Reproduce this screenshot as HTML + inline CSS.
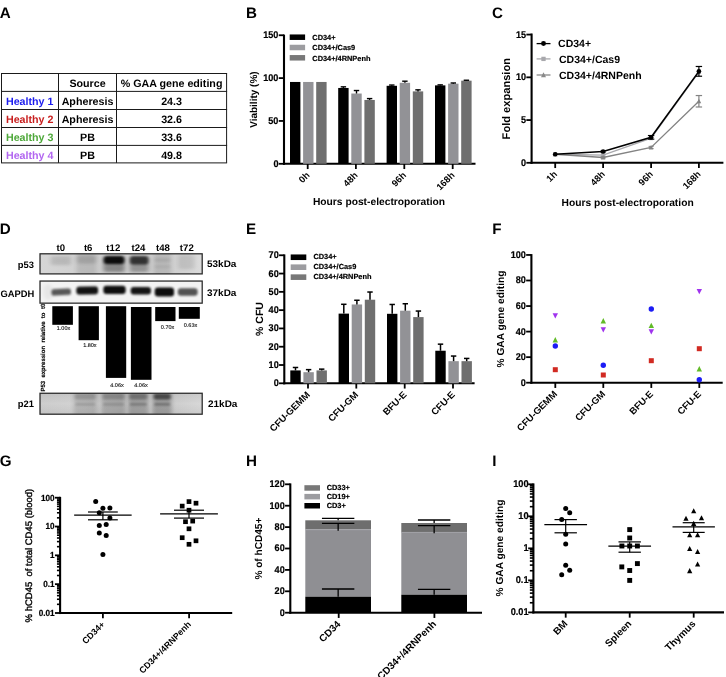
<!DOCTYPE html>
<html><head><meta charset="utf-8"><title>Figure</title>
<style>
html,body{margin:0;padding:0;background:#fff;}
body{width:726px;height:677px;overflow:hidden;font-family:"Liberation Sans",sans-serif;}
svg{display:block;will-change:transform;}
svg text{font-family:"Liberation Sans",sans-serif;text-rendering:geometricPrecision;}
</style></head><body>
<svg width="726" height="677" viewBox="0 0 726 677">
<rect width="726" height="677" fill="#fff"/>
<text x="-0.30" y="18.40" font-size="15.2" font-weight="bold" text-anchor="start" fill="#000" >A</text>
<line x1="1.00" y1="73.50" x2="227.10" y2="73.50" stroke="#1a1a1a" stroke-width="1.0" stroke-linecap="butt"/>
<line x1="1.00" y1="91.40" x2="227.10" y2="91.40" stroke="#1a1a1a" stroke-width="1.0" stroke-linecap="butt"/>
<line x1="1.00" y1="109.50" x2="227.10" y2="109.50" stroke="#1a1a1a" stroke-width="1.0" stroke-linecap="butt"/>
<line x1="1.00" y1="127.50" x2="227.10" y2="127.50" stroke="#1a1a1a" stroke-width="1.0" stroke-linecap="butt"/>
<line x1="1.00" y1="145.40" x2="227.10" y2="145.40" stroke="#1a1a1a" stroke-width="1.0" stroke-linecap="butt"/>
<line x1="1.00" y1="162.90" x2="227.10" y2="162.90" stroke="#1a1a1a" stroke-width="1.0" stroke-linecap="butt"/>
<line x1="1.50" y1="73.50" x2="1.50" y2="162.90" stroke="#1a1a1a" stroke-width="1.0" stroke-linecap="butt"/>
<line x1="58.50" y1="73.50" x2="58.50" y2="162.90" stroke="#1a1a1a" stroke-width="1.0" stroke-linecap="butt"/>
<line x1="116.50" y1="73.50" x2="116.50" y2="162.90" stroke="#1a1a1a" stroke-width="1.0" stroke-linecap="butt"/>
<line x1="226.60" y1="73.50" x2="226.60" y2="162.90" stroke="#1a1a1a" stroke-width="1.0" stroke-linecap="butt"/>
<text x="87.50" y="87.00" font-size="10.7" font-weight="bold" text-anchor="middle" fill="#000" >Source</text>
<text x="171.55" y="87.00" font-size="10.7" font-weight="bold" text-anchor="middle" fill="#000" >% GAA gene editing</text>
<text x="29.70" y="104.70" font-size="10.7" font-weight="bold" text-anchor="middle" fill="#1a1aee" >Healthy 1</text>
<text x="87.50" y="104.70" font-size="10.7" font-weight="bold" text-anchor="middle" fill="#000" >Apheresis</text>
<text x="171.55" y="104.70" font-size="10.7" font-weight="bold" text-anchor="middle" fill="#000" >24.3</text>
<text x="29.70" y="122.80" font-size="10.7" font-weight="bold" text-anchor="middle" fill="#c81e1e" >Healthy 2</text>
<text x="87.50" y="122.80" font-size="10.7" font-weight="bold" text-anchor="middle" fill="#000" >Apheresis</text>
<text x="171.55" y="122.80" font-size="10.7" font-weight="bold" text-anchor="middle" fill="#000" >32.6</text>
<text x="29.70" y="140.80" font-size="10.7" font-weight="bold" text-anchor="middle" fill="#4ea83a" >Healthy 3</text>
<text x="87.50" y="140.80" font-size="10.7" font-weight="bold" text-anchor="middle" fill="#000" >PB</text>
<text x="171.55" y="140.80" font-size="10.7" font-weight="bold" text-anchor="middle" fill="#000" >33.6</text>
<text x="29.70" y="158.70" font-size="10.7" font-weight="bold" text-anchor="middle" fill="#b266f0" >Healthy 4</text>
<text x="87.50" y="158.70" font-size="10.7" font-weight="bold" text-anchor="middle" fill="#000" >PB</text>
<text x="171.55" y="158.70" font-size="10.7" font-weight="bold" text-anchor="middle" fill="#000" >49.8</text>
<text x="245.90" y="18.40" font-size="15.2" font-weight="bold" text-anchor="start" fill="#000" >B</text>
<line x1="284.00" y1="34.60" x2="284.00" y2="164.85" stroke="#000" stroke-width="2.1" stroke-linecap="butt"/>
<line x1="278.75" y1="163.80" x2="284.00" y2="163.80" stroke="#000" stroke-width="1.8" stroke-linecap="butt"/>
<text x="278.45" y="166.76" font-size="9.8" font-weight="bold" text-anchor="end" fill="#000" textLength="5.07" lengthAdjust="spacingAndGlyphs" stroke="#000" stroke-width="0.2">0</text>
<line x1="278.75" y1="120.95" x2="284.00" y2="120.95" stroke="#000" stroke-width="1.8" stroke-linecap="butt"/>
<text x="278.45" y="123.91" font-size="9.8" font-weight="bold" text-anchor="end" fill="#000" textLength="10.13" lengthAdjust="spacingAndGlyphs" stroke="#000" stroke-width="0.2">50</text>
<line x1="278.75" y1="78.10" x2="284.00" y2="78.10" stroke="#000" stroke-width="1.8" stroke-linecap="butt"/>
<text x="278.45" y="81.06" font-size="9.8" font-weight="bold" text-anchor="end" fill="#000" textLength="15.20" lengthAdjust="spacingAndGlyphs" stroke="#000" stroke-width="0.2">100</text>
<line x1="278.75" y1="35.25" x2="284.00" y2="35.25" stroke="#000" stroke-width="1.8" stroke-linecap="butt"/>
<text x="278.45" y="38.21" font-size="9.8" font-weight="bold" text-anchor="end" fill="#000" textLength="15.20" lengthAdjust="spacingAndGlyphs" stroke="#000" stroke-width="0.2">150</text>
<line x1="282.95" y1="163.80" x2="475.50" y2="163.80" stroke="#000" stroke-width="2.1" stroke-linecap="butt"/>
<line x1="307.70" y1="163.80" x2="307.70" y2="169.05" stroke="#000" stroke-width="1.8" stroke-linecap="butt"/>
<line x1="355.90" y1="163.80" x2="355.90" y2="169.05" stroke="#000" stroke-width="1.8" stroke-linecap="butt"/>
<line x1="404.30" y1="163.80" x2="404.30" y2="169.05" stroke="#000" stroke-width="1.8" stroke-linecap="butt"/>
<line x1="452.70" y1="163.80" x2="452.70" y2="169.05" stroke="#000" stroke-width="1.8" stroke-linecap="butt"/>
<text x="310.20" y="175.80" font-size="9.3" font-weight="bold" text-anchor="end" fill="#000" transform="rotate(-45 310.20 175.80)" >0h</text>
<text x="358.40" y="175.80" font-size="9.3" font-weight="bold" text-anchor="end" fill="#000" transform="rotate(-45 358.40 175.80)" >48h</text>
<text x="406.80" y="175.80" font-size="9.3" font-weight="bold" text-anchor="end" fill="#000" transform="rotate(-45 406.80 175.80)" >96h</text>
<text x="455.20" y="175.80" font-size="9.3" font-weight="bold" text-anchor="end" fill="#000" transform="rotate(-45 455.20 175.80)" >168h</text>
<text x="379.00" y="205.20" font-size="10.25" font-weight="bold" text-anchor="middle" fill="#000" >Hours post-electroporation</text>
<text x="257.30" y="99.60" font-size="10" font-weight="bold" text-anchor="middle" fill="#000" transform="rotate(-90 257.30 99.60)" >Viability (%)</text>
<rect x="289.70" y="34.45" width="15.40" height="5.50" fill="#000" />
<text x="312.30" y="40.00" font-size="7.4" font-weight="bold" text-anchor="start" fill="#000" stroke="#000" stroke-width="0.18">CD34+</text>
<rect x="289.70" y="44.75" width="15.40" height="5.50" fill="#9c9ca0" />
<text x="312.30" y="50.30" font-size="7.4" font-weight="bold" text-anchor="start" fill="#000" stroke="#000" stroke-width="0.18">CD34+/Cas9</text>
<rect x="289.70" y="55.05" width="15.40" height="5.50" fill="#787878" />
<text x="312.30" y="60.60" font-size="7.4" font-weight="bold" text-anchor="start" fill="#000" stroke="#000" stroke-width="0.18">CD34+/4RNPenh</text>
<rect x="290.00" y="81.96" width="10.40" height="81.84" fill="#000" />
<rect x="303.10" y="81.96" width="10.40" height="81.84" fill="#929296" />
<rect x="316.20" y="81.96" width="10.40" height="81.84" fill="#6f6f6f" />
<rect x="338.20" y="87.96" width="10.40" height="75.84" fill="#000" />
<line x1="343.40" y1="87.96" x2="343.40" y2="86.84" stroke="#000" stroke-width="1.4" stroke-linecap="butt"/>
<line x1="340.70" y1="86.84" x2="346.10" y2="86.84" stroke="#000" stroke-width="1.4" stroke-linecap="butt"/>
<rect x="351.30" y="93.53" width="10.40" height="70.27" fill="#929296" />
<line x1="356.50" y1="93.53" x2="356.50" y2="90.53" stroke="#000" stroke-width="1.4" stroke-linecap="butt"/>
<line x1="353.80" y1="90.53" x2="359.20" y2="90.53" stroke="#000" stroke-width="1.4" stroke-linecap="butt"/>
<rect x="364.40" y="99.95" width="10.40" height="63.85" fill="#6f6f6f" />
<line x1="369.60" y1="99.95" x2="369.60" y2="98.58" stroke="#000" stroke-width="1.4" stroke-linecap="butt"/>
<line x1="366.90" y1="98.58" x2="372.30" y2="98.58" stroke="#000" stroke-width="1.4" stroke-linecap="butt"/>
<rect x="386.60" y="85.81" width="10.40" height="77.99" fill="#000" />
<line x1="391.80" y1="85.81" x2="391.80" y2="85.04" stroke="#000" stroke-width="1.4" stroke-linecap="butt"/>
<line x1="389.10" y1="85.04" x2="394.50" y2="85.04" stroke="#000" stroke-width="1.4" stroke-linecap="butt"/>
<rect x="399.70" y="82.81" width="10.40" height="80.99" fill="#929296" />
<line x1="404.90" y1="82.81" x2="404.90" y2="81.19" stroke="#000" stroke-width="1.4" stroke-linecap="butt"/>
<line x1="402.20" y1="81.19" x2="407.60" y2="81.19" stroke="#000" stroke-width="1.4" stroke-linecap="butt"/>
<rect x="412.80" y="91.38" width="10.40" height="72.42" fill="#6f6f6f" />
<line x1="418.00" y1="91.38" x2="418.00" y2="89.84" stroke="#000" stroke-width="1.4" stroke-linecap="butt"/>
<line x1="415.30" y1="89.84" x2="420.70" y2="89.84" stroke="#000" stroke-width="1.4" stroke-linecap="butt"/>
<rect x="435.00" y="85.38" width="10.40" height="78.42" fill="#000" />
<line x1="440.20" y1="85.38" x2="440.20" y2="84.87" stroke="#000" stroke-width="1.4" stroke-linecap="butt"/>
<line x1="437.50" y1="84.87" x2="442.90" y2="84.87" stroke="#000" stroke-width="1.4" stroke-linecap="butt"/>
<rect x="448.10" y="83.67" width="10.40" height="80.13" fill="#929296" />
<line x1="453.30" y1="83.67" x2="453.30" y2="82.98" stroke="#000" stroke-width="1.4" stroke-linecap="butt"/>
<line x1="450.60" y1="82.98" x2="456.00" y2="82.98" stroke="#000" stroke-width="1.4" stroke-linecap="butt"/>
<rect x="461.20" y="80.67" width="10.40" height="83.13" fill="#6f6f6f" />
<line x1="466.40" y1="80.67" x2="466.40" y2="80.24" stroke="#000" stroke-width="1.4" stroke-linecap="butt"/>
<line x1="463.70" y1="80.24" x2="469.10" y2="80.24" stroke="#000" stroke-width="1.4" stroke-linecap="butt"/>
<text x="492.00" y="18.40" font-size="15.2" font-weight="bold" text-anchor="start" fill="#000" >C</text>
<line x1="531.60" y1="33.50" x2="531.60" y2="163.85" stroke="#000" stroke-width="2.1" stroke-linecap="butt"/>
<line x1="526.35" y1="162.80" x2="531.60" y2="162.80" stroke="#000" stroke-width="1.8" stroke-linecap="butt"/>
<text x="526.05" y="165.76" font-size="9.8" font-weight="bold" text-anchor="end" fill="#000" textLength="5.07" lengthAdjust="spacingAndGlyphs" stroke="#000" stroke-width="0.2">0</text>
<line x1="526.35" y1="120.07" x2="531.60" y2="120.07" stroke="#000" stroke-width="1.8" stroke-linecap="butt"/>
<text x="526.05" y="123.02" font-size="9.8" font-weight="bold" text-anchor="end" fill="#000" textLength="5.07" lengthAdjust="spacingAndGlyphs" stroke="#000" stroke-width="0.2">5</text>
<line x1="526.35" y1="77.33" x2="531.60" y2="77.33" stroke="#000" stroke-width="1.8" stroke-linecap="butt"/>
<text x="526.05" y="80.29" font-size="9.8" font-weight="bold" text-anchor="end" fill="#000" textLength="10.13" lengthAdjust="spacingAndGlyphs" stroke="#000" stroke-width="0.2">10</text>
<line x1="526.35" y1="34.59" x2="531.60" y2="34.59" stroke="#000" stroke-width="1.8" stroke-linecap="butt"/>
<text x="526.05" y="37.55" font-size="9.8" font-weight="bold" text-anchor="end" fill="#000" textLength="10.13" lengthAdjust="spacingAndGlyphs" stroke="#000" stroke-width="0.2">15</text>
<line x1="530.55" y1="162.80" x2="723.40" y2="162.80" stroke="#000" stroke-width="2.1" stroke-linecap="butt"/>
<line x1="555.20" y1="162.80" x2="555.20" y2="168.05" stroke="#000" stroke-width="1.8" stroke-linecap="butt"/>
<line x1="603.10" y1="162.80" x2="603.10" y2="168.05" stroke="#000" stroke-width="1.8" stroke-linecap="butt"/>
<line x1="651.10" y1="162.80" x2="651.10" y2="168.05" stroke="#000" stroke-width="1.8" stroke-linecap="butt"/>
<line x1="698.90" y1="162.80" x2="698.90" y2="168.05" stroke="#000" stroke-width="1.8" stroke-linecap="butt"/>
<text x="557.70" y="174.80" font-size="9.3" font-weight="bold" text-anchor="end" fill="#000" transform="rotate(-45 557.70 174.80)" >1h</text>
<text x="605.60" y="174.80" font-size="9.3" font-weight="bold" text-anchor="end" fill="#000" transform="rotate(-45 605.60 174.80)" >48h</text>
<text x="653.60" y="174.80" font-size="9.3" font-weight="bold" text-anchor="end" fill="#000" transform="rotate(-45 653.60 174.80)" >96h</text>
<text x="701.40" y="174.80" font-size="9.3" font-weight="bold" text-anchor="end" fill="#000" transform="rotate(-45 701.40 174.80)" >168h</text>
<text x="627.60" y="206.10" font-size="10.25" font-weight="bold" text-anchor="middle" fill="#000" >Hours post-electroporation</text>
<text x="510.30" y="98.70" font-size="11.1" font-weight="bold" text-anchor="middle" fill="#000" transform="rotate(-90 510.30 98.70)" >Fold expansion</text>
<polyline fill="none" stroke="#a8a8ac" stroke-width="1.3" points="555.20,154.25 603.10,155.11 651.10,138.18 698.90,72.03"/>
<rect x="553.20" y="152.25" width="4.00" height="4.00" fill="#a8a8ac" />
<line x1="600.60" y1="154.25" x2="605.60" y2="154.25" stroke="#a8a8ac" stroke-width="1.0" stroke-linecap="butt"/>
<line x1="600.60" y1="155.96" x2="605.60" y2="155.96" stroke="#a8a8ac" stroke-width="1.0" stroke-linecap="butt"/>
<rect x="601.10" y="153.11" width="4.00" height="4.00" fill="#a8a8ac" />
<rect x="649.10" y="136.18" width="4.00" height="4.00" fill="#a8a8ac" />
<rect x="696.90" y="70.03" width="4.00" height="4.00" fill="#a8a8ac" />
<polyline fill="none" stroke="#838383" stroke-width="1.3" points="555.20,154.25 603.10,157.50 651.10,147.42 698.90,101.26"/>
<polygon points="555.20,151.77 552.90,156.28 557.50,156.28" fill="#838383"/>
<line x1="600.60" y1="156.82" x2="605.60" y2="156.82" stroke="#838383" stroke-width="1.0" stroke-linecap="butt"/>
<line x1="600.60" y1="158.18" x2="605.60" y2="158.18" stroke="#838383" stroke-width="1.0" stroke-linecap="butt"/>
<polygon points="603.10,155.02 600.80,159.53 605.40,159.53" fill="#838383"/>
<line x1="648.60" y1="146.39" x2="653.60" y2="146.39" stroke="#838383" stroke-width="1.0" stroke-linecap="butt"/>
<line x1="648.60" y1="148.44" x2="653.60" y2="148.44" stroke="#838383" stroke-width="1.0" stroke-linecap="butt"/>
<polygon points="651.10,144.94 648.80,149.44 653.40,149.44" fill="#838383"/>
<line x1="698.90" y1="95.54" x2="698.90" y2="106.99" stroke="#838383" stroke-width="1.2" stroke-linecap="butt"/>
<line x1="695.70" y1="95.54" x2="702.10" y2="95.54" stroke="#838383" stroke-width="1.2" stroke-linecap="butt"/>
<line x1="695.70" y1="106.99" x2="702.10" y2="106.99" stroke="#838383" stroke-width="1.2" stroke-linecap="butt"/>
<polygon points="698.90,98.78 696.60,103.29 701.20,103.29" fill="#838383"/>
<polyline fill="none" stroke="#000" stroke-width="1.6" points="555.20,154.25 603.10,151.52 651.10,137.33 698.90,71.35"/>
<circle cx="555.20" cy="154.25" r="2.3" fill="#000"/>
<line x1="600.60" y1="150.66" x2="605.60" y2="150.66" stroke="#000" stroke-width="1.0" stroke-linecap="butt"/>
<line x1="600.60" y1="152.37" x2="605.60" y2="152.37" stroke="#000" stroke-width="1.0" stroke-linecap="butt"/>
<circle cx="603.10" cy="151.52" r="2.3" fill="#000"/>
<line x1="651.10" y1="135.54" x2="651.10" y2="139.12" stroke="#000" stroke-width="1.2" stroke-linecap="butt"/>
<line x1="647.90" y1="135.54" x2="654.30" y2="135.54" stroke="#000" stroke-width="1.2" stroke-linecap="butt"/>
<line x1="647.90" y1="139.12" x2="654.30" y2="139.12" stroke="#000" stroke-width="1.2" stroke-linecap="butt"/>
<circle cx="651.10" cy="137.33" r="2.3" fill="#000"/>
<line x1="698.90" y1="66.48" x2="698.90" y2="76.22" stroke="#000" stroke-width="1.2" stroke-linecap="butt"/>
<line x1="695.70" y1="66.48" x2="702.10" y2="66.48" stroke="#000" stroke-width="1.2" stroke-linecap="butt"/>
<line x1="695.70" y1="76.22" x2="702.10" y2="76.22" stroke="#000" stroke-width="1.2" stroke-linecap="butt"/>
<circle cx="698.90" cy="71.35" r="2.3" fill="#000"/>
<line x1="536.60" y1="43.60" x2="550.50" y2="43.60" stroke="#000" stroke-width="1.3" stroke-linecap="butt"/>
<circle cx="543.50" cy="43.60" r="2.484" fill="#000"/>
<text x="558.10" y="46.60" font-size="10.5" font-weight="bold" text-anchor="start" fill="#000" >CD34+</text>
<line x1="536.60" y1="58.90" x2="550.50" y2="58.90" stroke="#a8a8ac" stroke-width="1.3" stroke-linecap="butt"/>
<rect x="541.34" y="56.74" width="4.32" height="4.32" fill="#a8a8ac" />
<text x="559.00" y="62.70" font-size="10.5" font-weight="bold" text-anchor="start" fill="#000" >CD34+/Cas9</text>
<line x1="536.60" y1="75.00" x2="550.50" y2="75.00" stroke="#8a8a8a" stroke-width="1.3" stroke-linecap="butt"/>
<polygon points="543.50,72.32 541.02,77.19 545.98,77.19" fill="#8a8a8a"/>
<text x="559.00" y="78.80" font-size="10.5" font-weight="bold" text-anchor="start" fill="#000" >CD34+/4RNPenh</text>
<text x="-0.20" y="234.20" font-size="15.2" font-weight="bold" text-anchor="start" fill="#000" >D</text>
<defs>
<filter id="b1" x="-30%" y="-80%" width="160%" height="260%"><feGaussianBlur stdDeviation="1.5 1.1"/></filter>
<filter id="b2" x="-30%" y="-80%" width="160%" height="260%"><feGaussianBlur stdDeviation="0.95 0.8"/></filter>
<filter id="b3" x="-40%" y="-100%" width="180%" height="300%"><feGaussianBlur stdDeviation="2.0 1.8"/></filter>
<filter id="b4" x="-30%" y="-200%" width="160%" height="500%"><feGaussianBlur stdDeviation="1.2 0.6"/></filter>
<clipPath id="cp53"><rect x="40" y="253.8" width="162.2" height="20.1"/></clipPath>
<clipPath id="cgap"><rect x="40" y="281.05" width="162.2" height="22.1"/></clipPath>
<clipPath id="cp21"><rect x="40" y="393.25" width="162.2" height="20.95"/></clipPath>
<linearGradient id="g53" x1="0" x2="1" y1="0" y2="0"><stop offset="0" stop-color="#d6d6d6"/><stop offset="0.5" stop-color="#cacaca"/><stop offset="0.9" stop-color="#d2d2d2"/><stop offset="1" stop-color="#dcdcdc"/></linearGradient>
<linearGradient id="g21" x1="0" x2="1" y1="0" y2="0"><stop offset="0" stop-color="#cdcdcd"/><stop offset="0.2" stop-color="#d2d2d2"/><stop offset="0.5" stop-color="#c2c2c2"/><stop offset="0.85" stop-color="#cfcfcf"/><stop offset="1" stop-color="#d8d8d8"/></linearGradient>
<linearGradient id="gvd" x1="0" x2="0" y1="0" y2="1"><stop offset="0" stop-color="#000" stop-opacity="0.06"/><stop offset="0.5" stop-color="#000" stop-opacity="0"/><stop offset="1" stop-color="#000" stop-opacity="0.05"/></linearGradient>
</defs>
<text x="60.80" y="250.80" font-size="9.6" font-weight="bold" text-anchor="middle" fill="#000" >t0</text>
<text x="88.20" y="250.80" font-size="9.6" font-weight="bold" text-anchor="middle" fill="#000" >t6</text>
<text x="113.30" y="250.80" font-size="9.6" font-weight="bold" text-anchor="middle" fill="#000" >t12</text>
<text x="138.50" y="250.80" font-size="9.6" font-weight="bold" text-anchor="middle" fill="#000" >t24</text>
<text x="162.90" y="250.80" font-size="9.6" font-weight="bold" text-anchor="middle" fill="#000" >t48</text>
<text x="186.80" y="250.80" font-size="9.6" font-weight="bold" text-anchor="middle" fill="#000" >t72</text>
<rect x="40.00" y="253.80" width="162.20" height="20.10" fill="url(#g53)" />
<g clip-path="url(#cp53)">
<rect x="50.80" y="256.00" width="20.00" height="9.00" rx="2.00" fill="#000" opacity="0.12" filter="url(#b3)"/>
<rect x="76.50" y="253.00" width="20.00" height="22.00" rx="2.00" fill="#000" opacity="0.1" filter="url(#b3)"/>
<rect x="77.00" y="255.50" width="19.00" height="8.00" rx="2.00" fill="#000" opacity="0.13" filter="url(#b3)"/>
<rect x="103.50" y="257.00" width="21.00" height="15.00" rx="2.00" fill="#000" opacity="0.34" filter="url(#b3)"/>
<rect x="103.75" y="256.00" width="20.50" height="8.00" rx="3.00" fill="#000" opacity="0.9" filter="url(#b1)"/>
<rect x="129.95" y="257.00" width="18.50" height="15.00" rx="2.00" fill="#000" opacity="0.28" filter="url(#b3)"/>
<rect x="129.95" y="255.95" width="18.50" height="8.50" rx="3.00" fill="#000" opacity="0.66" filter="url(#b1)"/>
<rect x="153.75" y="253.00" width="17.50" height="22.00" rx="2.00" fill="#000" opacity="0.11" filter="url(#b3)"/>
<rect x="154.50" y="258.00" width="16.00" height="4.00" rx="2.00" fill="#000" opacity="0.07" filter="url(#b1)"/>
<rect x="154.50" y="265.30" width="16.00" height="3.00" rx="1.50" fill="#000" opacity="0.06" filter="url(#b1)"/>
<rect x="178.30" y="255.00" width="16.00" height="14.00" rx="2.00" fill="#000" opacity="0.09" filter="url(#b3)"/>
<rect x="126.20" y="252.00" width="2.00" height="24.00" rx="0.00" fill="#fff" opacity="0.1" filter="url(#b2)"/>
</g>
<rect x="40" y="253.8" width="162.2" height="20.1" fill="none" stroke="#262626" stroke-width="1.25"/>
<rect x="40.00" y="281.05" width="162.20" height="22.10" fill="#f3f3f3" />
<g clip-path="url(#cgap)">
<rect x="43.00" y="284.00" width="10.00" height="16.00" rx="8.00" fill="#000" opacity="0.05" filter="url(#b3)"/>
<rect x="51.45" y="288.70" width="19.50" height="6.60" rx="2.60" fill="#000" opacity="0.64" filter="url(#b2)" transform="rotate(-3 61.20 292.00)"/>
<rect x="76.30" y="286.40" width="21.80" height="8.20" rx="3.00" fill="#000" opacity="0.92" filter="url(#b2)" transform="rotate(-1 87.20 290.50)"/>
<rect x="103.35" y="285.80" width="22.30" height="8.20" rx="3.00" fill="#000" opacity="0.94" filter="url(#b2)"/>
<rect x="130.65" y="287.00" width="20.30" height="7.60" rx="3.00" fill="#000" opacity="0.91" filter="url(#b2)"/>
<rect x="154.75" y="287.50" width="19.30" height="9.00" rx="3.20" fill="#000" opacity="0.95" filter="url(#b2)"/>
<rect x="177.80" y="288.30" width="19.80" height="7.40" rx="3.00" fill="#000" opacity="0.66" filter="url(#b2)"/>
</g>
<rect x="40" y="281.05" width="162.2" height="22.1" fill="none" stroke="#262626" stroke-width="1.25"/>
<text x="33.90" y="268.00" font-size="9.4" font-weight="bold" text-anchor="end" fill="#000" >p53</text>
<text x="34.30" y="296.90" font-size="9.4" font-weight="bold" text-anchor="end" fill="#000" >GAPDH</text>
<text x="207.00" y="267.40" font-size="9.5" font-weight="bold" text-anchor="start" fill="#000" textLength="29.4" lengthAdjust="spacingAndGlyphs">53kDa</text>
<text x="207.00" y="296.30" font-size="9.5" font-weight="bold" text-anchor="start" fill="#000" textLength="29.4" lengthAdjust="spacingAndGlyphs">37kDa</text>
<rect x="52.30" y="306.20" width="20.60" height="18.60" fill="#000" />
<text x="63.50" y="330.20" font-size="5.5" font-weight="normal" text-anchor="middle" fill="#111" stroke="#111" stroke-width="0.12">1.00x</text>
<rect x="78.60" y="306.20" width="20.30" height="34.00" fill="#000" />
<text x="89.90" y="347.10" font-size="5.5" font-weight="normal" text-anchor="middle" fill="#111" stroke="#111" stroke-width="0.12">1.80x</text>
<rect x="105.90" y="306.20" width="20.30" height="71.70" fill="#000" />
<text x="117.00" y="386.80" font-size="5.5" font-weight="normal" text-anchor="middle" fill="#111" stroke="#111" stroke-width="0.12">4.06x</text>
<rect x="130.90" y="307.00" width="20.60" height="72.80" fill="#000" />
<text x="141.00" y="386.80" font-size="5.5" font-weight="normal" text-anchor="middle" fill="#111" stroke="#111" stroke-width="0.12">4.06x</text>
<rect x="155.20" y="307.00" width="20.30" height="14.10" fill="#000" />
<text x="167.60" y="329.00" font-size="5.5" font-weight="normal" text-anchor="middle" fill="#111" stroke="#111" stroke-width="0.12">0.70x</text>
<rect x="178.80" y="307.00" width="21.00" height="11.80" fill="#000" />
<text x="190.50" y="327.00" font-size="5.5" font-weight="normal" text-anchor="middle" fill="#111" stroke="#111" stroke-width="0.12">0.63x</text>
<text x="44.90" y="391.60" font-size="6" font-weight="bold" text-anchor="start" fill="#000" transform="rotate(-90 44.90 391.60)" word-spacing="1.7" stroke="#000" stroke-width="0.15">P53 expression relative to t0</text>
<rect x="40.00" y="393.25" width="162.20" height="20.95" fill="url(#g21)" />
<g clip-path="url(#cp21)">
<rect x="40" y="393.25" width="162.2" height="20.95" fill="url(#gvd)"/>
<rect x="73.70" y="392.00" width="23.00" height="24.00" rx="2.00" fill="#000" opacity="0.12" filter="url(#b3)"/>
<rect x="74.70" y="393.80" width="21.00" height="5.60" rx="2.00" fill="#000" opacity="0.15" filter="url(#b1)"/>
<rect x="75.20" y="403.00" width="20.00" height="2.60" rx="1.30" fill="#000" opacity="0.14450000000000002" filter="url(#b2)"/>
<rect x="101.50" y="392.00" width="24.00" height="24.00" rx="2.00" fill="#000" opacity="0.14" filter="url(#b3)"/>
<rect x="102.50" y="393.80" width="22.00" height="5.60" rx="2.00" fill="#000" opacity="0.18" filter="url(#b1)"/>
<rect x="103.00" y="403.00" width="21.00" height="2.60" rx="1.30" fill="#000" opacity="0.1615" filter="url(#b2)"/>
<rect x="128.30" y="392.00" width="20.00" height="24.00" rx="2.00" fill="#000" opacity="0.19" filter="url(#b3)"/>
<rect x="129.30" y="393.80" width="18.00" height="5.60" rx="2.00" fill="#000" opacity="0.27" filter="url(#b1)"/>
<rect x="129.80" y="403.00" width="17.00" height="2.60" rx="1.30" fill="#000" opacity="0.255" filter="url(#b2)"/>
<rect x="152.70" y="392.00" width="19.00" height="24.00" rx="2.00" fill="#000" opacity="0.22" filter="url(#b3)"/>
<rect x="153.70" y="393.80" width="17.00" height="5.60" rx="2.00" fill="#000" opacity="0.52" filter="url(#b1)"/>
<rect x="154.20" y="403.00" width="16.00" height="2.60" rx="1.30" fill="#000" opacity="0.306" filter="url(#b2)"/>
<rect x="99.30" y="392.00" width="2.00" height="24.00" rx="0.00" fill="#fff" opacity="0.1" filter="url(#b2)"/>
<rect x="125.80" y="392.00" width="2.00" height="24.00" rx="0.00" fill="#fff" opacity="0.12" filter="url(#b2)"/>
<rect x="149.50" y="392.00" width="2.00" height="24.00" rx="0.00" fill="#fff" opacity="0.12" filter="url(#b2)"/>
</g>
<rect x="40" y="393.25" width="162.2" height="20.95" fill="none" stroke="#262626" stroke-width="1.25"/>
<text x="33.90" y="406.70" font-size="9.4" font-weight="bold" text-anchor="end" fill="#000" >p21</text>
<text x="208.00" y="406.60" font-size="9.5" font-weight="bold" text-anchor="start" fill="#000" textLength="29.4" lengthAdjust="spacingAndGlyphs">21kDa</text>
<text x="246.00" y="234.20" font-size="15.2" font-weight="bold" text-anchor="start" fill="#000" >E</text>
<line x1="284.30" y1="254.40" x2="284.30" y2="384.35" stroke="#000" stroke-width="2.1" stroke-linecap="butt"/>
<line x1="279.05" y1="383.30" x2="284.30" y2="383.30" stroke="#000" stroke-width="1.8" stroke-linecap="butt"/>
<text x="278.75" y="386.26" font-size="9.8" font-weight="bold" text-anchor="end" fill="#000" textLength="5.07" lengthAdjust="spacingAndGlyphs" stroke="#000" stroke-width="0.2">0</text>
<line x1="279.05" y1="365.01" x2="284.30" y2="365.01" stroke="#000" stroke-width="1.8" stroke-linecap="butt"/>
<text x="278.75" y="367.97" font-size="9.8" font-weight="bold" text-anchor="end" fill="#000" textLength="10.13" lengthAdjust="spacingAndGlyphs" stroke="#000" stroke-width="0.2">10</text>
<line x1="279.05" y1="346.72" x2="284.30" y2="346.72" stroke="#000" stroke-width="1.8" stroke-linecap="butt"/>
<text x="278.75" y="349.68" font-size="9.8" font-weight="bold" text-anchor="end" fill="#000" textLength="10.13" lengthAdjust="spacingAndGlyphs" stroke="#000" stroke-width="0.2">20</text>
<line x1="279.05" y1="328.43" x2="284.30" y2="328.43" stroke="#000" stroke-width="1.8" stroke-linecap="butt"/>
<text x="278.75" y="331.39" font-size="9.8" font-weight="bold" text-anchor="end" fill="#000" textLength="10.13" lengthAdjust="spacingAndGlyphs" stroke="#000" stroke-width="0.2">30</text>
<line x1="279.05" y1="310.14" x2="284.30" y2="310.14" stroke="#000" stroke-width="1.8" stroke-linecap="butt"/>
<text x="278.75" y="313.10" font-size="9.8" font-weight="bold" text-anchor="end" fill="#000" textLength="10.13" lengthAdjust="spacingAndGlyphs" stroke="#000" stroke-width="0.2">40</text>
<line x1="279.05" y1="291.85" x2="284.30" y2="291.85" stroke="#000" stroke-width="1.8" stroke-linecap="butt"/>
<text x="278.75" y="294.81" font-size="9.8" font-weight="bold" text-anchor="end" fill="#000" textLength="10.13" lengthAdjust="spacingAndGlyphs" stroke="#000" stroke-width="0.2">50</text>
<line x1="279.05" y1="273.56" x2="284.30" y2="273.56" stroke="#000" stroke-width="1.8" stroke-linecap="butt"/>
<text x="278.75" y="276.52" font-size="9.8" font-weight="bold" text-anchor="end" fill="#000" textLength="10.13" lengthAdjust="spacingAndGlyphs" stroke="#000" stroke-width="0.2">60</text>
<line x1="279.05" y1="255.27" x2="284.30" y2="255.27" stroke="#000" stroke-width="1.8" stroke-linecap="butt"/>
<text x="278.75" y="258.23" font-size="9.8" font-weight="bold" text-anchor="end" fill="#000" textLength="10.13" lengthAdjust="spacingAndGlyphs" stroke="#000" stroke-width="0.2">70</text>
<line x1="283.25" y1="383.30" x2="474.60" y2="383.30" stroke="#000" stroke-width="2.1" stroke-linecap="butt"/>
<line x1="308.00" y1="383.30" x2="308.00" y2="388.55" stroke="#000" stroke-width="1.8" stroke-linecap="butt"/>
<line x1="356.30" y1="383.30" x2="356.30" y2="388.55" stroke="#000" stroke-width="1.8" stroke-linecap="butt"/>
<line x1="404.70" y1="383.30" x2="404.70" y2="388.55" stroke="#000" stroke-width="1.8" stroke-linecap="butt"/>
<line x1="453.00" y1="383.30" x2="453.00" y2="388.55" stroke="#000" stroke-width="1.8" stroke-linecap="butt"/>
<text x="310.50" y="395.30" font-size="9.5" font-weight="bold" text-anchor="end" fill="#000" transform="rotate(-45 310.50 395.30)" >CFU-GEMM</text>
<text x="358.80" y="395.30" font-size="9.5" font-weight="bold" text-anchor="end" fill="#000" transform="rotate(-45 358.80 395.30)" >CFU-GM</text>
<text x="407.20" y="395.30" font-size="9.5" font-weight="bold" text-anchor="end" fill="#000" transform="rotate(-45 407.20 395.30)" >BFU-E</text>
<text x="455.50" y="395.30" font-size="9.5" font-weight="bold" text-anchor="end" fill="#000" transform="rotate(-45 455.50 395.30)" >CFU-E</text>
<text x="262.90" y="319.00" font-size="10.5" font-weight="bold" text-anchor="middle" fill="#000" transform="rotate(-90 262.90 319.00)" >% CFU</text>
<rect x="290.70" y="254.45" width="15.60" height="5.60" fill="#000" />
<text x="313.40" y="259.40" font-size="7.4" font-weight="bold" text-anchor="start" fill="#000" stroke="#000" stroke-width="0.18">CD34+</text>
<rect x="290.70" y="264.40" width="15.60" height="5.60" fill="#9c9ca0" />
<text x="313.40" y="269.35" font-size="7.4" font-weight="bold" text-anchor="start" fill="#000" stroke="#000" stroke-width="0.18">CD34+/Cas9</text>
<rect x="290.70" y="274.35" width="15.60" height="5.60" fill="#787878" />
<text x="313.40" y="279.30" font-size="7.4" font-weight="bold" text-anchor="start" fill="#000" stroke="#000" stroke-width="0.18">CD34+/4RNPenh</text>
<rect x="290.30" y="370.41" width="10.40" height="12.89" fill="#000" />
<line x1="295.50" y1="370.41" x2="295.50" y2="367.48" stroke="#000" stroke-width="1.5" stroke-linecap="butt"/>
<line x1="292.80" y1="367.48" x2="298.20" y2="367.48" stroke="#000" stroke-width="1.5" stroke-linecap="butt"/>
<rect x="303.40" y="372.20" width="10.40" height="11.10" fill="#929296" />
<line x1="308.60" y1="372.20" x2="308.60" y2="369.64" stroke="#000" stroke-width="1.5" stroke-linecap="butt"/>
<line x1="305.90" y1="369.64" x2="311.30" y2="369.64" stroke="#000" stroke-width="1.5" stroke-linecap="butt"/>
<rect x="316.50" y="370.41" width="10.40" height="12.89" fill="#6f6f6f" />
<line x1="321.70" y1="370.41" x2="321.70" y2="369.13" stroke="#000" stroke-width="1.5" stroke-linecap="butt"/>
<line x1="319.00" y1="369.13" x2="324.40" y2="369.13" stroke="#000" stroke-width="1.5" stroke-linecap="butt"/>
<rect x="338.60" y="313.62" width="10.40" height="69.68" fill="#000" />
<line x1="343.80" y1="313.62" x2="343.80" y2="304.29" stroke="#000" stroke-width="1.5" stroke-linecap="butt"/>
<line x1="341.10" y1="304.29" x2="346.50" y2="304.29" stroke="#000" stroke-width="1.5" stroke-linecap="butt"/>
<rect x="351.70" y="304.47" width="10.40" height="78.83" fill="#929296" />
<line x1="356.90" y1="304.47" x2="356.90" y2="300.26" stroke="#000" stroke-width="1.5" stroke-linecap="butt"/>
<line x1="354.20" y1="300.26" x2="359.60" y2="300.26" stroke="#000" stroke-width="1.5" stroke-linecap="butt"/>
<rect x="364.80" y="299.71" width="10.40" height="83.59" fill="#6f6f6f" />
<line x1="370.00" y1="299.71" x2="370.00" y2="292.03" stroke="#000" stroke-width="1.5" stroke-linecap="butt"/>
<line x1="367.30" y1="292.03" x2="372.70" y2="292.03" stroke="#000" stroke-width="1.5" stroke-linecap="butt"/>
<rect x="387.00" y="313.80" width="10.40" height="69.50" fill="#000" />
<line x1="392.20" y1="313.80" x2="392.20" y2="304.47" stroke="#000" stroke-width="1.5" stroke-linecap="butt"/>
<line x1="389.50" y1="304.47" x2="394.90" y2="304.47" stroke="#000" stroke-width="1.5" stroke-linecap="butt"/>
<rect x="400.10" y="310.69" width="10.40" height="72.61" fill="#929296" />
<line x1="405.30" y1="310.69" x2="405.30" y2="303.74" stroke="#000" stroke-width="1.5" stroke-linecap="butt"/>
<line x1="402.60" y1="303.74" x2="408.00" y2="303.74" stroke="#000" stroke-width="1.5" stroke-linecap="butt"/>
<rect x="413.20" y="317.09" width="10.40" height="66.21" fill="#6f6f6f" />
<line x1="418.40" y1="317.09" x2="418.40" y2="311.05" stroke="#000" stroke-width="1.5" stroke-linecap="butt"/>
<line x1="415.70" y1="311.05" x2="421.10" y2="311.05" stroke="#000" stroke-width="1.5" stroke-linecap="butt"/>
<rect x="435.30" y="350.74" width="10.40" height="32.56" fill="#000" />
<line x1="440.50" y1="350.74" x2="440.50" y2="344.16" stroke="#000" stroke-width="1.5" stroke-linecap="butt"/>
<line x1="437.80" y1="344.16" x2="443.20" y2="344.16" stroke="#000" stroke-width="1.5" stroke-linecap="butt"/>
<rect x="448.40" y="361.17" width="10.40" height="22.13" fill="#929296" />
<line x1="453.60" y1="361.17" x2="453.60" y2="356.05" stroke="#000" stroke-width="1.5" stroke-linecap="butt"/>
<line x1="450.90" y1="356.05" x2="456.30" y2="356.05" stroke="#000" stroke-width="1.5" stroke-linecap="butt"/>
<rect x="461.50" y="361.17" width="10.40" height="22.13" fill="#6f6f6f" />
<line x1="466.70" y1="361.17" x2="466.70" y2="358.43" stroke="#000" stroke-width="1.5" stroke-linecap="butt"/>
<line x1="464.00" y1="358.43" x2="469.40" y2="358.43" stroke="#000" stroke-width="1.5" stroke-linecap="butt"/>
<text x="492.20" y="234.20" font-size="15.2" font-weight="bold" text-anchor="start" fill="#000" >F</text>
<line x1="531.40" y1="254.10" x2="531.40" y2="383.75" stroke="#000" stroke-width="2.1" stroke-linecap="butt"/>
<line x1="526.15" y1="382.70" x2="531.40" y2="382.70" stroke="#000" stroke-width="1.8" stroke-linecap="butt"/>
<text x="525.85" y="385.66" font-size="9.8" font-weight="bold" text-anchor="end" fill="#000" textLength="5.07" lengthAdjust="spacingAndGlyphs" stroke="#000" stroke-width="0.2">0</text>
<line x1="526.15" y1="357.15" x2="531.40" y2="357.15" stroke="#000" stroke-width="1.8" stroke-linecap="butt"/>
<text x="525.85" y="360.11" font-size="9.8" font-weight="bold" text-anchor="end" fill="#000" textLength="10.13" lengthAdjust="spacingAndGlyphs" stroke="#000" stroke-width="0.2">20</text>
<line x1="526.15" y1="331.60" x2="531.40" y2="331.60" stroke="#000" stroke-width="1.8" stroke-linecap="butt"/>
<text x="525.85" y="334.56" font-size="9.8" font-weight="bold" text-anchor="end" fill="#000" textLength="10.13" lengthAdjust="spacingAndGlyphs" stroke="#000" stroke-width="0.2">40</text>
<line x1="526.15" y1="306.05" x2="531.40" y2="306.05" stroke="#000" stroke-width="1.8" stroke-linecap="butt"/>
<text x="525.85" y="309.01" font-size="9.8" font-weight="bold" text-anchor="end" fill="#000" textLength="10.13" lengthAdjust="spacingAndGlyphs" stroke="#000" stroke-width="0.2">60</text>
<line x1="526.15" y1="280.50" x2="531.40" y2="280.50" stroke="#000" stroke-width="1.8" stroke-linecap="butt"/>
<text x="525.85" y="283.46" font-size="9.8" font-weight="bold" text-anchor="end" fill="#000" textLength="10.13" lengthAdjust="spacingAndGlyphs" stroke="#000" stroke-width="0.2">80</text>
<line x1="526.15" y1="254.95" x2="531.40" y2="254.95" stroke="#000" stroke-width="1.8" stroke-linecap="butt"/>
<text x="525.85" y="257.91" font-size="9.8" font-weight="bold" text-anchor="end" fill="#000" textLength="15.20" lengthAdjust="spacingAndGlyphs" stroke="#000" stroke-width="0.2">100</text>
<line x1="530.35" y1="382.70" x2="722.70" y2="382.70" stroke="#000" stroke-width="2.1" stroke-linecap="butt"/>
<line x1="555.30" y1="382.70" x2="555.30" y2="387.95" stroke="#000" stroke-width="1.8" stroke-linecap="butt"/>
<line x1="603.30" y1="382.70" x2="603.30" y2="387.95" stroke="#000" stroke-width="1.8" stroke-linecap="butt"/>
<line x1="651.30" y1="382.70" x2="651.30" y2="387.95" stroke="#000" stroke-width="1.8" stroke-linecap="butt"/>
<line x1="699.30" y1="382.70" x2="699.30" y2="387.95" stroke="#000" stroke-width="1.8" stroke-linecap="butt"/>
<text x="557.80" y="394.70" font-size="9.5" font-weight="bold" text-anchor="end" fill="#000" transform="rotate(-45 557.80 394.70)" >CFU-GEMM</text>
<text x="605.80" y="394.70" font-size="9.5" font-weight="bold" text-anchor="end" fill="#000" transform="rotate(-45 605.80 394.70)" >CFU-GM</text>
<text x="653.80" y="394.70" font-size="9.5" font-weight="bold" text-anchor="end" fill="#000" transform="rotate(-45 653.80 394.70)" >BFU-E</text>
<text x="701.80" y="394.70" font-size="9.5" font-weight="bold" text-anchor="end" fill="#000" transform="rotate(-45 701.80 394.70)" >CFU-E</text>
<text x="504.00" y="319.00" font-size="10.2" font-weight="bold" text-anchor="middle" fill="#000" transform="rotate(-90 504.00 319.00)" >% GAA gene editing</text>
<polygon points="555.30,318.61 552.60,313.32 558.00,313.32" fill="#a033ee"/>
<polygon points="555.30,337.09 552.60,342.38 558.00,342.38" fill="#62bb28"/>
<circle cx="555.30" cy="346.00" r="2.7" fill="#1c1cf5"/>
<rect x="552.80" y="367.20" width="5.00" height="5.00" fill="#d12a22" />
<polygon points="603.30,318.09 600.60,323.38 606.00,323.38" fill="#62bb28"/>
<polygon points="603.30,332.61 600.60,327.32 606.00,327.32" fill="#a033ee"/>
<circle cx="603.30" cy="365.30" r="2.7" fill="#1c1cf5"/>
<rect x="600.80" y="372.50" width="5.00" height="5.00" fill="#d12a22" />
<circle cx="651.30" cy="309.00" r="2.7" fill="#1c1cf5"/>
<polygon points="651.30,322.79 648.60,328.08 654.00,328.08" fill="#62bb28"/>
<polygon points="651.30,334.61 648.60,329.32 654.00,329.32" fill="#a033ee"/>
<rect x="648.80" y="358.20" width="5.00" height="5.00" fill="#d12a22" />
<polygon points="699.30,294.21 696.60,288.92 702.00,288.92" fill="#a033ee"/>
<rect x="696.80" y="346.20" width="5.00" height="5.00" fill="#d12a22" />
<polygon points="699.30,366.09 696.60,371.38 702.00,371.38" fill="#62bb28"/>
<circle cx="699.30" cy="379.70" r="2.7" fill="#1c1cf5"/>
<text x="-0.20" y="466.10" font-size="15.2" font-weight="bold" text-anchor="start" fill="#000" >G</text>
<line x1="60.10" y1="496.80" x2="60.10" y2="614.05" stroke="#000" stroke-width="2.1" stroke-linecap="butt"/>
<line x1="54.95" y1="497.70" x2="60.10" y2="497.70" stroke="#000" stroke-width="1.8" stroke-linecap="butt"/>
<text x="54.65" y="500.65" font-size="8.8" font-weight="bold" text-anchor="end" fill="#000" textLength="13.65" lengthAdjust="spacingAndGlyphs" stroke="#000" stroke-width="0.2">100</text>
<line x1="56.95" y1="517.85" x2="60.10" y2="517.85" stroke="#000" stroke-width="1.6" stroke-linecap="butt"/>
<line x1="56.95" y1="512.77" x2="60.10" y2="512.77" stroke="#000" stroke-width="1.6" stroke-linecap="butt"/>
<line x1="56.95" y1="509.17" x2="60.10" y2="509.17" stroke="#000" stroke-width="1.6" stroke-linecap="butt"/>
<line x1="56.95" y1="506.38" x2="60.10" y2="506.38" stroke="#000" stroke-width="1.6" stroke-linecap="butt"/>
<line x1="56.95" y1="504.09" x2="60.10" y2="504.09" stroke="#000" stroke-width="1.6" stroke-linecap="butt"/>
<line x1="56.95" y1="502.17" x2="60.10" y2="502.17" stroke="#000" stroke-width="1.6" stroke-linecap="butt"/>
<line x1="56.95" y1="500.49" x2="60.10" y2="500.49" stroke="#000" stroke-width="1.6" stroke-linecap="butt"/>
<line x1="56.95" y1="499.02" x2="60.10" y2="499.02" stroke="#000" stroke-width="1.6" stroke-linecap="butt"/>
<line x1="54.95" y1="526.52" x2="60.10" y2="526.52" stroke="#000" stroke-width="1.8" stroke-linecap="butt"/>
<text x="54.65" y="529.48" font-size="8.8" font-weight="bold" text-anchor="end" fill="#000" textLength="9.10" lengthAdjust="spacingAndGlyphs" stroke="#000" stroke-width="0.2">10</text>
<line x1="56.95" y1="546.67" x2="60.10" y2="546.67" stroke="#000" stroke-width="1.6" stroke-linecap="butt"/>
<line x1="56.95" y1="541.60" x2="60.10" y2="541.60" stroke="#000" stroke-width="1.6" stroke-linecap="butt"/>
<line x1="56.95" y1="538.00" x2="60.10" y2="538.00" stroke="#000" stroke-width="1.6" stroke-linecap="butt"/>
<line x1="56.95" y1="535.20" x2="60.10" y2="535.20" stroke="#000" stroke-width="1.6" stroke-linecap="butt"/>
<line x1="56.95" y1="532.92" x2="60.10" y2="532.92" stroke="#000" stroke-width="1.6" stroke-linecap="butt"/>
<line x1="56.95" y1="530.99" x2="60.10" y2="530.99" stroke="#000" stroke-width="1.6" stroke-linecap="butt"/>
<line x1="56.95" y1="529.32" x2="60.10" y2="529.32" stroke="#000" stroke-width="1.6" stroke-linecap="butt"/>
<line x1="56.95" y1="527.84" x2="60.10" y2="527.84" stroke="#000" stroke-width="1.6" stroke-linecap="butt"/>
<line x1="54.95" y1="555.35" x2="60.10" y2="555.35" stroke="#000" stroke-width="1.8" stroke-linecap="butt"/>
<text x="54.65" y="558.30" font-size="8.8" font-weight="bold" text-anchor="end" fill="#000" textLength="4.55" lengthAdjust="spacingAndGlyphs" stroke="#000" stroke-width="0.2">1</text>
<line x1="56.95" y1="575.50" x2="60.10" y2="575.50" stroke="#000" stroke-width="1.6" stroke-linecap="butt"/>
<line x1="56.95" y1="570.42" x2="60.10" y2="570.42" stroke="#000" stroke-width="1.6" stroke-linecap="butt"/>
<line x1="56.95" y1="566.82" x2="60.10" y2="566.82" stroke="#000" stroke-width="1.6" stroke-linecap="butt"/>
<line x1="56.95" y1="564.03" x2="60.10" y2="564.03" stroke="#000" stroke-width="1.6" stroke-linecap="butt"/>
<line x1="56.95" y1="561.74" x2="60.10" y2="561.74" stroke="#000" stroke-width="1.6" stroke-linecap="butt"/>
<line x1="56.95" y1="559.82" x2="60.10" y2="559.82" stroke="#000" stroke-width="1.6" stroke-linecap="butt"/>
<line x1="56.95" y1="558.14" x2="60.10" y2="558.14" stroke="#000" stroke-width="1.6" stroke-linecap="butt"/>
<line x1="56.95" y1="556.67" x2="60.10" y2="556.67" stroke="#000" stroke-width="1.6" stroke-linecap="butt"/>
<line x1="54.95" y1="584.17" x2="60.10" y2="584.17" stroke="#000" stroke-width="1.8" stroke-linecap="butt"/>
<text x="54.65" y="587.13" font-size="8.8" font-weight="bold" text-anchor="end" fill="#000" textLength="11.38" lengthAdjust="spacingAndGlyphs" stroke="#000" stroke-width="0.2">0.1</text>
<line x1="56.95" y1="604.32" x2="60.10" y2="604.32" stroke="#000" stroke-width="1.6" stroke-linecap="butt"/>
<line x1="56.95" y1="599.25" x2="60.10" y2="599.25" stroke="#000" stroke-width="1.6" stroke-linecap="butt"/>
<line x1="56.95" y1="595.65" x2="60.10" y2="595.65" stroke="#000" stroke-width="1.6" stroke-linecap="butt"/>
<line x1="56.95" y1="592.85" x2="60.10" y2="592.85" stroke="#000" stroke-width="1.6" stroke-linecap="butt"/>
<line x1="56.95" y1="590.57" x2="60.10" y2="590.57" stroke="#000" stroke-width="1.6" stroke-linecap="butt"/>
<line x1="56.95" y1="588.64" x2="60.10" y2="588.64" stroke="#000" stroke-width="1.6" stroke-linecap="butt"/>
<line x1="56.95" y1="586.97" x2="60.10" y2="586.97" stroke="#000" stroke-width="1.6" stroke-linecap="butt"/>
<line x1="56.95" y1="585.49" x2="60.10" y2="585.49" stroke="#000" stroke-width="1.6" stroke-linecap="butt"/>
<line x1="54.95" y1="613.00" x2="60.10" y2="613.00" stroke="#000" stroke-width="1.8" stroke-linecap="butt"/>
<text x="54.65" y="615.95" font-size="8.8" font-weight="bold" text-anchor="end" fill="#000" textLength="15.93" lengthAdjust="spacingAndGlyphs" stroke="#000" stroke-width="0.2">0.01</text>
<line x1="59.05" y1="613.00" x2="232.20" y2="613.00" stroke="#000" stroke-width="2.1" stroke-linecap="butt"/>
<line x1="102.90" y1="613.00" x2="102.90" y2="618.25" stroke="#000" stroke-width="1.8" stroke-linecap="butt"/>
<line x1="189.10" y1="613.00" x2="189.10" y2="618.25" stroke="#000" stroke-width="1.8" stroke-linecap="butt"/>
<text x="105.40" y="625.00" font-size="8.8" font-weight="bold" text-anchor="end" fill="#000" transform="rotate(-45 105.40 625.00)" >CD34+</text>
<text x="191.60" y="625.00" font-size="8.8" font-weight="bold" text-anchor="end" fill="#000" transform="rotate(-45 191.60 625.00)" >CD34+/4RNPenh</text>
<text x="32.30" y="555.60" font-size="9.5" font-weight="normal" text-anchor="middle" fill="#000" transform="rotate(-90 32.30 555.60)" stroke="#000" stroke-width="0.35" xml:space="preserve">% hCD45  of total CD45 (blood)</text>
<line x1="74.15" y1="515.20" x2="131.65" y2="515.20" stroke="#000" stroke-width="1.2" stroke-linecap="butt"/>
<line x1="88.00" y1="512.00" x2="117.80" y2="512.00" stroke="#000" stroke-width="1.2" stroke-linecap="butt"/>
<line x1="88.00" y1="519.80" x2="117.80" y2="519.80" stroke="#000" stroke-width="1.2" stroke-linecap="butt"/>
<line x1="102.90" y1="512.00" x2="102.90" y2="519.80" stroke="#000" stroke-width="1.2" stroke-linecap="butt"/>
<circle cx="95.70" cy="501.60" r="2.5" fill="#000"/>
<circle cx="102.90" cy="508.30" r="2.5" fill="#000"/>
<circle cx="109.90" cy="508.10" r="2.5" fill="#000"/>
<circle cx="99.30" cy="512.70" r="2.5" fill="#000"/>
<circle cx="109.90" cy="518.00" r="2.5" fill="#000"/>
<circle cx="99.30" cy="525.40" r="2.5" fill="#000"/>
<circle cx="106.20" cy="524.60" r="2.5" fill="#000"/>
<circle cx="99.30" cy="533.10" r="2.5" fill="#000"/>
<circle cx="106.20" cy="535.50" r="2.5" fill="#000"/>
<circle cx="102.90" cy="554.40" r="2.5" fill="#000"/>
<line x1="160.10" y1="513.90" x2="217.90" y2="513.90" stroke="#000" stroke-width="1.2" stroke-linecap="butt"/>
<line x1="174.00" y1="510.20" x2="204.00" y2="510.20" stroke="#000" stroke-width="1.2" stroke-linecap="butt"/>
<line x1="174.00" y1="518.10" x2="204.00" y2="518.10" stroke="#000" stroke-width="1.2" stroke-linecap="butt"/>
<line x1="189.00" y1="510.20" x2="189.00" y2="518.10" stroke="#000" stroke-width="1.2" stroke-linecap="butt"/>
<rect x="186.65" y="499.25" width="4.70" height="4.70" fill="#000" />
<rect x="193.65" y="500.85" width="4.70" height="4.70" fill="#000" />
<rect x="179.85" y="503.75" width="4.70" height="4.70" fill="#000" />
<rect x="186.65" y="507.85" width="4.70" height="4.70" fill="#000" />
<rect x="183.15" y="519.35" width="4.70" height="4.70" fill="#000" />
<rect x="190.35" y="518.75" width="4.70" height="4.70" fill="#000" />
<rect x="186.65" y="526.45" width="4.70" height="4.70" fill="#000" />
<rect x="179.85" y="535.35" width="4.70" height="4.70" fill="#000" />
<rect x="193.65" y="538.45" width="4.70" height="4.70" fill="#000" />
<rect x="186.65" y="541.95" width="4.70" height="4.70" fill="#000" />
<text x="245.90" y="466.10" font-size="15.2" font-weight="bold" text-anchor="start" fill="#000" >H</text>
<line x1="290.30" y1="483.40" x2="290.30" y2="613.75" stroke="#000" stroke-width="2.1" stroke-linecap="butt"/>
<line x1="285.05" y1="612.70" x2="290.30" y2="612.70" stroke="#000" stroke-width="1.8" stroke-linecap="butt"/>
<text x="284.75" y="615.66" font-size="9.8" font-weight="bold" text-anchor="end" fill="#000" textLength="5.07" lengthAdjust="spacingAndGlyphs" stroke="#000" stroke-width="0.2">0</text>
<line x1="285.05" y1="591.30" x2="290.30" y2="591.30" stroke="#000" stroke-width="1.8" stroke-linecap="butt"/>
<text x="284.75" y="594.26" font-size="9.8" font-weight="bold" text-anchor="end" fill="#000" textLength="10.13" lengthAdjust="spacingAndGlyphs" stroke="#000" stroke-width="0.2">20</text>
<line x1="285.05" y1="569.90" x2="290.30" y2="569.90" stroke="#000" stroke-width="1.8" stroke-linecap="butt"/>
<text x="284.75" y="572.86" font-size="9.8" font-weight="bold" text-anchor="end" fill="#000" textLength="10.13" lengthAdjust="spacingAndGlyphs" stroke="#000" stroke-width="0.2">40</text>
<line x1="285.05" y1="548.50" x2="290.30" y2="548.50" stroke="#000" stroke-width="1.8" stroke-linecap="butt"/>
<text x="284.75" y="551.46" font-size="9.8" font-weight="bold" text-anchor="end" fill="#000" textLength="10.13" lengthAdjust="spacingAndGlyphs" stroke="#000" stroke-width="0.2">60</text>
<line x1="285.05" y1="527.10" x2="290.30" y2="527.10" stroke="#000" stroke-width="1.8" stroke-linecap="butt"/>
<text x="284.75" y="530.06" font-size="9.8" font-weight="bold" text-anchor="end" fill="#000" textLength="10.13" lengthAdjust="spacingAndGlyphs" stroke="#000" stroke-width="0.2">80</text>
<line x1="285.05" y1="505.70" x2="290.30" y2="505.70" stroke="#000" stroke-width="1.8" stroke-linecap="butt"/>
<text x="284.75" y="508.66" font-size="9.8" font-weight="bold" text-anchor="end" fill="#000" textLength="15.20" lengthAdjust="spacingAndGlyphs" stroke="#000" stroke-width="0.2">100</text>
<line x1="285.05" y1="484.30" x2="290.30" y2="484.30" stroke="#000" stroke-width="1.8" stroke-linecap="butt"/>
<text x="284.75" y="487.26" font-size="9.8" font-weight="bold" text-anchor="end" fill="#000" textLength="15.20" lengthAdjust="spacingAndGlyphs" stroke="#000" stroke-width="0.2">120</text>
<line x1="289.25" y1="612.70" x2="482.00" y2="612.70" stroke="#000" stroke-width="2.1" stroke-linecap="butt"/>
<line x1="338.70" y1="612.70" x2="338.70" y2="617.95" stroke="#000" stroke-width="1.8" stroke-linecap="butt"/>
<line x1="434.40" y1="612.70" x2="434.40" y2="617.95" stroke="#000" stroke-width="1.8" stroke-linecap="butt"/>
<text x="341.20" y="624.70" font-size="10.0" font-weight="bold" text-anchor="end" fill="#000" transform="rotate(-45 341.20 624.70)" >CD34</text>
<text x="436.90" y="624.70" font-size="10.0" font-weight="bold" text-anchor="end" fill="#000" transform="rotate(-45 436.90 624.70)" >CD34+/4RNPenh</text>
<text x="261.80" y="548.60" font-size="10.1" font-weight="bold" text-anchor="middle" fill="#000" transform="rotate(-90 261.80 548.60)" >% of hCD45+</text>
<rect x="304.40" y="485.20" width="15.60" height="5.50" fill="#787878" />
<text x="326.70" y="490.40" font-size="7.4" font-weight="bold" text-anchor="start" fill="#000" stroke="#000" stroke-width="0.18">CD33+</text>
<rect x="304.40" y="493.90" width="15.60" height="5.50" fill="#9c9ca0" />
<text x="326.70" y="498.90" font-size="7.4" font-weight="bold" text-anchor="start" fill="#000" stroke="#000" stroke-width="0.18">CD19+</text>
<rect x="304.40" y="503.00" width="15.60" height="5.50" fill="#000" />
<text x="326.70" y="508.30" font-size="7.4" font-weight="bold" text-anchor="start" fill="#000" stroke="#000" stroke-width="0.18">CD3+</text>
<rect x="305.30" y="520.30" width="65.70" height="9.00" fill="#6e6e6e" />
<rect x="305.30" y="529.30" width="65.70" height="67.40" fill="#8f8f93" />
<line x1="305.30" y1="529.70" x2="371.00" y2="529.70" stroke="#a8a8ac" stroke-width="0.8" stroke-linecap="butt"/>
<rect x="305.30" y="596.70" width="65.70" height="16.00" fill="#000" />
<line x1="321.95" y1="589.00" x2="354.35" y2="589.00" stroke="#000" stroke-width="1.3" stroke-linecap="butt"/>
<line x1="338.15" y1="589.00" x2="338.15" y2="596.70" stroke="#000" stroke-width="1.3" stroke-linecap="butt"/>
<line x1="321.95" y1="523.30" x2="354.35" y2="523.30" stroke="#000" stroke-width="1.3" stroke-linecap="butt"/>
<line x1="338.15" y1="523.30" x2="338.15" y2="530.70" stroke="#000" stroke-width="1.3" stroke-linecap="butt"/>
<line x1="321.95" y1="518.30" x2="354.35" y2="518.30" stroke="#000" stroke-width="1.3" stroke-linecap="butt"/>
<line x1="338.15" y1="518.30" x2="338.15" y2="520.30" stroke="#000" stroke-width="1.3" stroke-linecap="butt"/>
<rect x="401.30" y="523.00" width="65.70" height="9.00" fill="#6e6e6e" />
<rect x="401.30" y="532.00" width="65.70" height="62.70" fill="#8f8f93" />
<line x1="401.30" y1="532.40" x2="467.00" y2="532.40" stroke="#a8a8ac" stroke-width="0.8" stroke-linecap="butt"/>
<rect x="401.30" y="594.70" width="65.70" height="18.00" fill="#000" />
<line x1="417.95" y1="589.30" x2="450.35" y2="589.30" stroke="#000" stroke-width="1.3" stroke-linecap="butt"/>
<line x1="434.15" y1="589.30" x2="434.15" y2="594.70" stroke="#000" stroke-width="1.3" stroke-linecap="butt"/>
<line x1="417.95" y1="525.70" x2="450.35" y2="525.70" stroke="#000" stroke-width="1.3" stroke-linecap="butt"/>
<line x1="434.15" y1="525.70" x2="434.15" y2="533.30" stroke="#000" stroke-width="1.3" stroke-linecap="butt"/>
<line x1="417.95" y1="520.00" x2="450.35" y2="520.00" stroke="#000" stroke-width="1.3" stroke-linecap="butt"/>
<line x1="434.15" y1="520.00" x2="434.15" y2="523.00" stroke="#000" stroke-width="1.3" stroke-linecap="butt"/>
<text x="492.20" y="466.10" font-size="15.2" font-weight="bold" text-anchor="start" fill="#000" >I</text>
<line x1="533.40" y1="483.40" x2="533.40" y2="613.45" stroke="#000" stroke-width="2.1" stroke-linecap="butt"/>
<line x1="528.15" y1="484.30" x2="533.40" y2="484.30" stroke="#000" stroke-width="1.8" stroke-linecap="butt"/>
<text x="528.55" y="487.34" font-size="9.9" font-weight="bold" text-anchor="end" fill="#000" textLength="15.36" lengthAdjust="spacingAndGlyphs" stroke="#000" stroke-width="0.2">100</text>
<line x1="529.85" y1="506.68" x2="533.40" y2="506.68" stroke="#000" stroke-width="1.6" stroke-linecap="butt"/>
<line x1="529.85" y1="501.05" x2="533.40" y2="501.05" stroke="#000" stroke-width="1.6" stroke-linecap="butt"/>
<line x1="529.85" y1="497.04" x2="533.40" y2="497.04" stroke="#000" stroke-width="1.6" stroke-linecap="butt"/>
<line x1="529.85" y1="493.94" x2="533.40" y2="493.94" stroke="#000" stroke-width="1.6" stroke-linecap="butt"/>
<line x1="529.85" y1="491.40" x2="533.40" y2="491.40" stroke="#000" stroke-width="1.6" stroke-linecap="butt"/>
<line x1="529.85" y1="489.26" x2="533.40" y2="489.26" stroke="#000" stroke-width="1.6" stroke-linecap="butt"/>
<line x1="529.85" y1="487.40" x2="533.40" y2="487.40" stroke="#000" stroke-width="1.6" stroke-linecap="butt"/>
<line x1="529.85" y1="485.77" x2="533.40" y2="485.77" stroke="#000" stroke-width="1.6" stroke-linecap="butt"/>
<line x1="528.15" y1="516.33" x2="533.40" y2="516.33" stroke="#000" stroke-width="1.8" stroke-linecap="butt"/>
<text x="528.55" y="519.37" font-size="9.9" font-weight="bold" text-anchor="end" fill="#000" textLength="10.24" lengthAdjust="spacingAndGlyphs" stroke="#000" stroke-width="0.2">10</text>
<line x1="529.85" y1="538.71" x2="533.40" y2="538.71" stroke="#000" stroke-width="1.6" stroke-linecap="butt"/>
<line x1="529.85" y1="533.07" x2="533.40" y2="533.07" stroke="#000" stroke-width="1.6" stroke-linecap="butt"/>
<line x1="529.85" y1="529.07" x2="533.40" y2="529.07" stroke="#000" stroke-width="1.6" stroke-linecap="butt"/>
<line x1="529.85" y1="525.97" x2="533.40" y2="525.97" stroke="#000" stroke-width="1.6" stroke-linecap="butt"/>
<line x1="529.85" y1="523.43" x2="533.40" y2="523.43" stroke="#000" stroke-width="1.6" stroke-linecap="butt"/>
<line x1="529.85" y1="521.29" x2="533.40" y2="521.29" stroke="#000" stroke-width="1.6" stroke-linecap="butt"/>
<line x1="529.85" y1="519.43" x2="533.40" y2="519.43" stroke="#000" stroke-width="1.6" stroke-linecap="butt"/>
<line x1="529.85" y1="517.79" x2="533.40" y2="517.79" stroke="#000" stroke-width="1.6" stroke-linecap="butt"/>
<line x1="528.15" y1="548.35" x2="533.40" y2="548.35" stroke="#000" stroke-width="1.8" stroke-linecap="butt"/>
<text x="528.55" y="551.39" font-size="9.9" font-weight="bold" text-anchor="end" fill="#000" textLength="5.12" lengthAdjust="spacingAndGlyphs" stroke="#000" stroke-width="0.2">1</text>
<line x1="529.85" y1="570.73" x2="533.40" y2="570.73" stroke="#000" stroke-width="1.6" stroke-linecap="butt"/>
<line x1="529.85" y1="565.10" x2="533.40" y2="565.10" stroke="#000" stroke-width="1.6" stroke-linecap="butt"/>
<line x1="529.85" y1="561.09" x2="533.40" y2="561.09" stroke="#000" stroke-width="1.6" stroke-linecap="butt"/>
<line x1="529.85" y1="557.99" x2="533.40" y2="557.99" stroke="#000" stroke-width="1.6" stroke-linecap="butt"/>
<line x1="529.85" y1="555.45" x2="533.40" y2="555.45" stroke="#000" stroke-width="1.6" stroke-linecap="butt"/>
<line x1="529.85" y1="553.31" x2="533.40" y2="553.31" stroke="#000" stroke-width="1.6" stroke-linecap="butt"/>
<line x1="529.85" y1="551.45" x2="533.40" y2="551.45" stroke="#000" stroke-width="1.6" stroke-linecap="butt"/>
<line x1="529.85" y1="549.82" x2="533.40" y2="549.82" stroke="#000" stroke-width="1.6" stroke-linecap="butt"/>
<line x1="528.15" y1="580.38" x2="533.40" y2="580.38" stroke="#000" stroke-width="1.8" stroke-linecap="butt"/>
<text x="528.55" y="583.42" font-size="9.9" font-weight="bold" text-anchor="end" fill="#000" textLength="12.80" lengthAdjust="spacingAndGlyphs" stroke="#000" stroke-width="0.2">0.1</text>
<line x1="529.85" y1="602.76" x2="533.40" y2="602.76" stroke="#000" stroke-width="1.6" stroke-linecap="butt"/>
<line x1="529.85" y1="597.12" x2="533.40" y2="597.12" stroke="#000" stroke-width="1.6" stroke-linecap="butt"/>
<line x1="529.85" y1="593.12" x2="533.40" y2="593.12" stroke="#000" stroke-width="1.6" stroke-linecap="butt"/>
<line x1="529.85" y1="590.02" x2="533.40" y2="590.02" stroke="#000" stroke-width="1.6" stroke-linecap="butt"/>
<line x1="529.85" y1="587.48" x2="533.40" y2="587.48" stroke="#000" stroke-width="1.6" stroke-linecap="butt"/>
<line x1="529.85" y1="585.34" x2="533.40" y2="585.34" stroke="#000" stroke-width="1.6" stroke-linecap="butt"/>
<line x1="529.85" y1="583.48" x2="533.40" y2="583.48" stroke="#000" stroke-width="1.6" stroke-linecap="butt"/>
<line x1="529.85" y1="581.84" x2="533.40" y2="581.84" stroke="#000" stroke-width="1.6" stroke-linecap="butt"/>
<line x1="528.15" y1="612.40" x2="533.40" y2="612.40" stroke="#000" stroke-width="1.8" stroke-linecap="butt"/>
<text x="528.55" y="615.44" font-size="9.9" font-weight="bold" text-anchor="end" fill="#000" textLength="17.92" lengthAdjust="spacingAndGlyphs" stroke="#000" stroke-width="0.2">0.01</text>
<line x1="532.35" y1="612.40" x2="724.00" y2="612.40" stroke="#000" stroke-width="2.1" stroke-linecap="butt"/>
<line x1="565.70" y1="612.40" x2="565.70" y2="617.65" stroke="#000" stroke-width="1.8" stroke-linecap="butt"/>
<line x1="629.70" y1="612.40" x2="629.70" y2="617.65" stroke="#000" stroke-width="1.8" stroke-linecap="butt"/>
<line x1="693.70" y1="612.40" x2="693.70" y2="617.65" stroke="#000" stroke-width="1.8" stroke-linecap="butt"/>
<text x="568.20" y="624.40" font-size="10.0" font-weight="bold" text-anchor="end" fill="#000" transform="rotate(-45 568.20 624.40)" >BM</text>
<text x="632.20" y="624.40" font-size="10.0" font-weight="bold" text-anchor="end" fill="#000" transform="rotate(-45 632.20 624.40)" >Spleen</text>
<text x="696.20" y="624.40" font-size="10.0" font-weight="bold" text-anchor="end" fill="#000" transform="rotate(-45 696.20 624.40)" >Thymus</text>
<text x="503.20" y="548.00" font-size="10.2" font-weight="bold" text-anchor="middle" fill="#000" transform="rotate(-90 503.20 548.00)" >% GAA gene editing</text>
<line x1="544.35" y1="524.70" x2="587.05" y2="524.70" stroke="#000" stroke-width="1.2" stroke-linecap="butt"/>
<line x1="554.50" y1="519.60" x2="576.90" y2="519.60" stroke="#000" stroke-width="1.2" stroke-linecap="butt"/>
<line x1="554.50" y1="532.80" x2="576.90" y2="532.80" stroke="#000" stroke-width="1.2" stroke-linecap="butt"/>
<line x1="565.70" y1="519.60" x2="565.70" y2="532.80" stroke="#000" stroke-width="1.2" stroke-linecap="butt"/>
<circle cx="565.70" cy="508.40" r="2.5" fill="#000"/>
<circle cx="569.70" cy="512.80" r="2.5" fill="#000"/>
<circle cx="561.70" cy="519.50" r="2.5" fill="#000"/>
<circle cx="565.70" cy="534.20" r="2.5" fill="#000"/>
<circle cx="565.70" cy="543.90" r="2.5" fill="#000"/>
<circle cx="565.70" cy="565.30" r="2.5" fill="#000"/>
<circle cx="569.70" cy="570.20" r="2.5" fill="#000"/>
<circle cx="561.70" cy="574.80" r="2.5" fill="#000"/>
<line x1="608.35" y1="546.10" x2="651.05" y2="546.10" stroke="#000" stroke-width="1.2" stroke-linecap="butt"/>
<line x1="618.50" y1="541.90" x2="640.90" y2="541.90" stroke="#000" stroke-width="1.2" stroke-linecap="butt"/>
<line x1="618.50" y1="552.20" x2="640.90" y2="552.20" stroke="#000" stroke-width="1.2" stroke-linecap="butt"/>
<line x1="629.70" y1="541.90" x2="629.70" y2="552.20" stroke="#000" stroke-width="1.2" stroke-linecap="butt"/>
<rect x="627.25" y="527.15" width="4.90" height="4.90" fill="#000" />
<rect x="627.25" y="535.55" width="4.90" height="4.90" fill="#000" />
<rect x="619.45" y="543.55" width="4.90" height="4.90" fill="#000" />
<rect x="627.25" y="543.55" width="4.90" height="4.90" fill="#000" />
<rect x="634.95" y="543.55" width="4.90" height="4.90" fill="#000" />
<rect x="634.95" y="561.15" width="4.90" height="4.90" fill="#000" />
<rect x="619.35" y="564.45" width="4.90" height="4.90" fill="#000" />
<rect x="627.25" y="568.05" width="4.90" height="4.90" fill="#000" />
<rect x="627.25" y="577.95" width="4.90" height="4.90" fill="#000" />
<line x1="672.50" y1="526.80" x2="714.90" y2="526.80" stroke="#000" stroke-width="1.2" stroke-linecap="butt"/>
<line x1="682.70" y1="522.70" x2="704.70" y2="522.70" stroke="#000" stroke-width="1.2" stroke-linecap="butt"/>
<line x1="682.70" y1="532.40" x2="704.70" y2="532.40" stroke="#000" stroke-width="1.2" stroke-linecap="butt"/>
<line x1="693.70" y1="522.70" x2="693.70" y2="532.40" stroke="#000" stroke-width="1.2" stroke-linecap="butt"/>
<polygon points="693.70,508.20 691.10,513.29 696.30,513.29" fill="#000"/>
<polygon points="686.00,515.70 683.40,520.79 688.60,520.79" fill="#000"/>
<polygon points="701.50,515.20 698.90,520.29 704.10,520.29" fill="#000"/>
<polygon points="693.70,520.80 691.10,525.89 696.30,525.89" fill="#000"/>
<polygon points="689.70,532.20 687.10,537.29 692.30,537.29" fill="#000"/>
<polygon points="697.60,532.20 695.00,537.29 700.20,537.29" fill="#000"/>
<polygon points="689.70,546.00 687.10,551.09 692.30,551.09" fill="#000"/>
<polygon points="697.60,549.00 695.00,554.09 700.20,554.09" fill="#000"/>
<polygon points="697.60,561.40 695.00,566.49 700.20,566.49" fill="#000"/>
<polygon points="689.70,568.10 687.10,573.19 692.30,573.19" fill="#000"/>
</svg>
</body></html>
